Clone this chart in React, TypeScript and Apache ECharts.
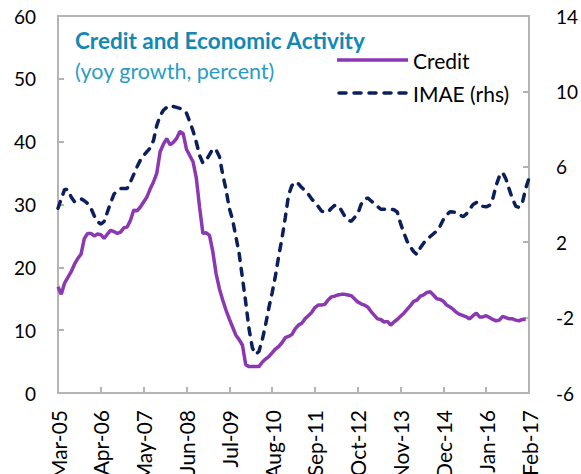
import React, { useEffect, useRef } from "react";
import * as echarts from "echarts";

const MONTHS = ["Jan", "Feb", "Mar", "Apr", "May", "Jun", "Jul", "Aug", "Sep", "Oct", "Nov", "Dec"];
const START_YEAR = 2005;
const START_MONTH = 2; // March
const N_MONTHS = 144;

const categories: string[] = [];
for (let i = 0; i < N_MONTHS; i++) {
  const m = (START_MONTH + i) % 12;
  const y = START_YEAR + Math.floor((START_MONTH + i) / 12);
  categories.push(`${MONTHS[m]}-${String(y % 100).padStart(2, "0")}`);
}

const credit: (number | null)[] = [
  16.9, 15.7, 17.5, 18.4, 19.3, 20.5, 21.4, 22.1, 24.6, 25.4,
  25.4, 25.0, 25.3, 25.2, 24.6, 25.3, 25.9, 25.7, 25.4, 25.6,
  26.3, 26.4, 27.5, 29.1, 29.0, 29.6, 30.4, 31.2, 32.5, 33.6,
  35.0, 38.4, 39.6, 40.5, 39.5, 39.9, 40.5, 41.6, 41.3, 38.8,
  37.8, 36.8, 34.2, 29.5, 25.4, 25.5, 25.1, 22.5, 19.0, 16.6,
  14.8, 13.2, 11.8, 10.5, 9.2, 8.5, 7.6, 4.5, 4.2, 4.2,
  4.2, 4.2, 4.9, 5.4, 5.8, 6.4, 7.0, 7.4, 8.0, 8.8,
  9.0, 9.3, 10.2, 10.8, 11.1, 11.8, 12.3, 12.8, 13.6, 14.0,
  14.0, 14.1, 14.8, 15.3, 15.4, 15.6, 15.7, 15.7, 15.6, 15.5,
  15.0, 14.5, 14.2, 14.0, 13.7, 13.0, 12.4, 11.8, 11.7, 11.3,
  11.4, 10.8, 11.3, 11.7, 12.2, 12.7, 13.3, 13.9, 14.6, 14.8,
  15.4, 15.6, 16.0, 16.1, 15.6, 15.0, 14.9, 14.6, 14.0, 13.7,
  13.3, 12.8, 12.5, 12.3, 12.1, 11.8, 12.3, 12.7, 12.1, 12.1,
  12.3, 12.0, 11.7, 11.5, 11.6, 12.2, 12.0, 11.8, 11.8, 11.6,
  11.5, 11.7, 11.7, null,
];

const imae: number[] = [
  3.8, 4.3, 4.8, 4.8, 4.4, 4.15, 4.2, 4.3, 4.2, 4.05,
  3.8, 3.4, 3.1, 2.95, 3.1, 3.6, 4.1, 4.55, 4.75, 4.85,
  4.85, 4.85, 5.2, 5.6, 6.0, 6.35, 6.6, 6.8, 7.0, 7.4,
  8.2, 8.7, 9.0, 9.15, 9.25, 9.2, 9.15, 9.1, 9.0, 8.85,
  8.4, 7.9, 7.3, 6.6, 6.2, 6.35, 6.65, 6.95, 6.9, 6.55,
  5.6, 4.8, 3.8, 3.2, 2.3, 1.4, 0.1, -1.2, -2.6, -3.6,
  -3.95, -3.8, -3.2, -2.4, -1.5, -0.7, 0.2, 1.25, 2.2, 3.3,
  4.5, 5.0, 5.2, 5.1, 4.9, 4.75, 4.55, 4.3, 4.1, 3.9,
  3.65, 3.6, 3.6, 3.8, 3.95, 3.95, 3.7, 3.4, 3.2, 3.1,
  3.3, 3.5, 4.0, 4.25, 4.35, 4.2, 4.05, 3.9, 3.75, 3.75,
  3.75, 3.75, 3.72, 3.6, 3.0, 2.5, 2.05, 1.75, 1.5, 1.35,
  1.7, 1.95, 2.15, 2.3, 2.45, 2.6, 2.85, 3.2, 3.45, 3.62,
  3.6, 3.58, 3.45, 3.35, 3.5, 3.75, 4.0, 4.1, 4.1, 3.9,
  3.88, 3.95, 4.3, 5.0, 5.5, 5.7, 5.35, 4.8, 4.3, 3.9,
  3.85, 4.1, 4.85, 5.4,
];

const LEFT_MIN = 0, LEFT_MAX = 60, LEFT_STEP = 10;
const RIGHT_MIN = -6, RIGHT_MAX = 14, RIGHT_STEP = 4;

const TITLE = "Credit and Economic Activity";
const SUBTITLE = "(yoy growth, percent)";
const SERIES_NAMES = ["Credit", "IMAE (rhs)"];
const FONT = "Lato, 'Noto Sans', sans-serif";

const CREDIT_COLOR = "#8b38b3";
const IMAE_COLOR = "#0b1f5a";
const IMAE_DASH = [7, 8];

export default function App() {
  const ref = useRef<HTMLDivElement>(null);
  useEffect(() => {
    if (!ref.current) return;
    const chart = echarts.init(ref.current, null, { renderer: "svg" });
    const axisGrey = "#b4b4b4";
    chart.setOption({
      animation: false,
      textStyle: { fontFamily: FONT },
      grid: {
        left: 58, right: 52, top: 16, bottom: 81,
        outerBoundsMode: "none", containLabel: false,
        show: true, borderColor: axisGrey, borderWidth: 2, backgroundColor: "transparent",
      },
      graphic: [
        {
          type: "text", left: 75, top: 29,
          style: { text: TITLE, fill: "#1289b4", font: `bold 22.5px ${FONT}` },
        },
        {
          type: "text", left: 75, top: 60,
          style: { text: SUBTITLE, fill: "#2a9cc4", font: `21.5px ${FONT}` },
        },
        {
          type: "line", shape: { x1: 337, y1: 60, x2: 408, y2: 60 },
          style: { stroke: CREDIT_COLOR, lineWidth: 3.5 },
        },
        {
          type: "text", left: 413, top: 50,
          style: { text: SERIES_NAMES[0], fill: "#000", font: `21px ${FONT}` },
        },
        {
          type: "line", shape: { x1: 339, y1: 93, x2: 408, y2: 93 },
          style: { stroke: IMAE_COLOR, lineWidth: 3.5, lineDash: IMAE_DASH, lineCap: "round" },
        },
        {
          type: "text", left: 413, top: 83,
          style: { text: SERIES_NAMES[1], fill: "#000", font: `21px ${FONT}` },
        },
      ],
      xAxis: {
        type: "category", data: categories, boundaryGap: false,
        axisLine: { lineStyle: { color: axisGrey, width: 2 } },
        axisTick: { inside: true, length: 6, interval: 12, lineStyle: { color: axisGrey, width: 2 } },
        axisLabel: { interval: 12, rotate: 90, margin: 17, fontSize: 21, color: "#000", fontFamily: FONT },
      },
      yAxis: [
        {
          type: "value", min: LEFT_MIN, max: LEFT_MAX, interval: LEFT_STEP,
          splitLine: { show: false },
          axisLine: { show: true, lineStyle: { color: axisGrey, width: 2 } },
          axisTick: { show: true, inside: true, length: 6, lineStyle: { color: axisGrey, width: 2 } },
          axisLabel: { margin: 22, fontSize: 19, color: "#000", fontFamily: FONT },
        },
        {
          type: "value", min: RIGHT_MIN, max: RIGHT_MAX, interval: RIGHT_STEP,
          splitLine: { show: false },
          axisLine: { show: true, lineStyle: { color: axisGrey, width: 2 } },
          axisTick: { show: true, inside: true, length: 6, lineStyle: { color: axisGrey, width: 2 } },
          axisLabel: { margin: 27, fontSize: 19, color: "#000", fontFamily: FONT },
        },
      ],
      series: [
        {
          name: SERIES_NAMES[0], type: "line", data: credit, yAxisIndex: 0,
          symbol: "none", lineStyle: { color: CREDIT_COLOR, width: 3.5 }, itemStyle: { color: CREDIT_COLOR },
        },
        {
          name: SERIES_NAMES[1], type: "line", data: imae, yAxisIndex: 1,
          symbol: "none",
          lineStyle: { color: IMAE_COLOR, width: 3.5, type: IMAE_DASH, cap: "round" },
          itemStyle: { color: IMAE_COLOR },
        },
      ],
    });
    return () => chart.dispose();
  }, []);
  return <div ref={ref} style={{ width: 581, height: 474, position: "absolute", left: 0, top: 0 }} />;
}
